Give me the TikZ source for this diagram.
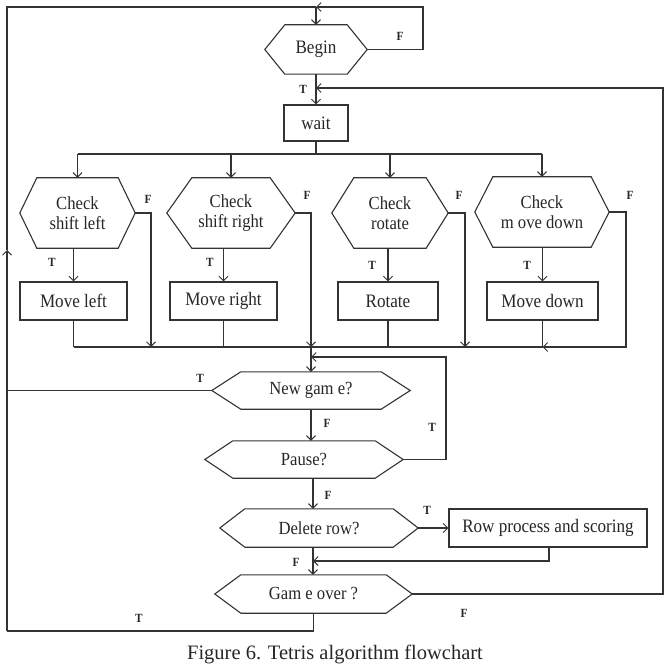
\documentclass[tikz,border=0pt]{standalone}
\usepackage{fontspec}
\setmainfont[FakeStretch=0.9]{Liberation Serif}
\newfontfamily\capfont{Liberation Serif}
\usetikzlibrary{arrows.meta,calc}
\tikzset{
  ln/.style={draw=black!80, line width=1.1pt},
  arr/.style={-{Straight Barb[length=4.5pt,width=9pt,line width=1pt]}},
  boxn/.style={draw=black!80, line width=1.1pt, rectangle, inner sep=0pt,
    font=\fontsize{19}{20}\selectfont, text=black!85},
  hexn/.style={rectangle, inner sep=0pt, align=center, text=black!85},
  chk/.style={hexn, font=\fontsize{18.5}{20}\selectfont},
  qst/.style={hexn, font=\fontsize{18.5}{20}\selectfont},
  lab/.style={font=\bfseries\fontsize{12.5}{12.5}\selectfont, text=black!85, inner sep=0pt},
}
\begin{document}
\begin{tikzpicture}[x=1pt,y=-1pt]
\useasboundingbox (0,0) rectangle (670,666);

% nodes
\node[hexn, font=\fontsize{19}{20}\selectfont, minimum width=102pt, minimum height=49pt] (bg) at (316,49.5) {Begin};
\node[boxn, minimum width=64pt, minimum height=36pt] (wt) at (316,123) {wait};

\node[chk, minimum width=115pt, minimum height=70pt] (h1) at (77.5,213) {Check\\shift left};
\node[chk, minimum width=128pt, minimum height=70pt] (h2) at (231,213) {Check\\shift right};
\node[chk, minimum width=116pt, minimum height=70pt] (h3) at (390,213) {Check\\rotate};
\node[chk, minimum width=134pt, minimum height=70pt] (h4) at (542,212) {Check\\m ove down};

\node[boxn, minimum width=107pt, minimum height=38pt] (b1) at (73.5,301) {Move left};
\node[boxn, minimum width=107pt, minimum height=38pt] (b2) at (223.5,301) {Move right};
\node[boxn, minimum width=100pt, minimum height=38pt] (b3) at (388,301) {Rotate};
\node[boxn, minimum width=111pt, minimum height=38pt] (b4) at (542.5,301) {Move down};

\node[qst, minimum width=198pt, minimum height=37pt] (ng) at (311,390.5) {New gam e?};
\node[qst, minimum width=198pt, minimum height=37pt] (pa) at (304,459.5) {Pause?};
\node[qst, minimum width=198pt, minimum height=38pt] (dr) at (319,528) {Delete row?};
\node[boxn, minimum width=198pt, minimum height=38pt] (rp) at (548,528) {Row process and scoring};
\node[qst, minimum width=197pt, minimum height=38pt] (go) at (313.5,594) {Gam e over ?};

% hexagon outlines
\foreach \n/\d in {bg/20,h1/17,h2/25,h3/22,h4/18,ng/29,pa/28,dr/25,go/26}
  \draw[ln] (\n.west) -- ([xshift=\d]\n.north west) -- ([xshift=-\d]\n.north east)
    -- (\n.east) -- ([xshift=-\d]\n.south east) -- ([xshift=\d]\n.south west) -- cycle;

% helper coordinates
\coordinate (tl) at (7,7);
\coordinate (jt) at (316,7);
\coordinate (tr) at (423,7);
\coordinate (la) at (7,250);
\coordinate (bl) at (7,631);
\coordinate (jw) at (316,88);
\coordinate (rr) at (663,88);
\coordinate (sp) at (316,154);
\coordinate (m) at (0,347);
\coordinate (f1) at (151,347);
\coordinate (f2) at (311,347);
\coordinate (f3) at (465,347);
\coordinate (f4) at (626,347);
\coordinate (pl) at (446,357);
\coordinate (sx) at (313,0);
\coordinate (rb) at (549,561);

% top loops
\draw[ln,arr] (bg.east) -| (tr) -- (jt);
\draw[ln] (go.south) |- (bl);
\draw[ln,arr] (bl) -- (la);
\draw[ln] (la) -- (tl) -- (jt);
\draw[ln,arr] (jt) -- (bg.north);
\draw[ln,arr] (bg.south) -- (wt.north);
\draw[ln,arr] (go.east) -| (rr) -- (jw);
\draw[ln] (ng.west) -- (ng.west -| tl);

% split
\draw[ln] (wt.south) -- (sp);
\draw[ln] (h1.north |- sp) -- (h4.north |- sp);
\foreach \h in {h1,h2,h3,h4}
  \draw[ln,arr] (\h.north |- sp) -- (\h.north);

% true branches
\draw[ln,arr] (h1.south -| b1.north) -- (b1.north);
\draw[ln,arr] (h2.south -| b2.north) -- (b2.north);
\draw[ln,arr] (h3.south -| b3.north) -- (b3.north);
\draw[ln,arr] (h4.south -| b4.north) -- (b4.north);

% merge
\foreach \b in {b1,b2,b3,b4}
  \draw[ln] (\b.south) -- (\b.south |- m);
\draw[ln] (b1.south |- m) -- (b4.south |- m);
\draw[ln,arr] (h1.east) -| (f1);
\draw[ln,arr] (h2.east) -| (f2);
\draw[ln,arr] (h3.east) -| (f3);
\draw[ln,arr] (h4.east) -| (f4) -- (b4.south |- m);
\draw[ln,arr] (f2) -- (ng.north);

% lower part
\draw[ln,arr] (pa.east) -| (pl) -- (pl -| ng.north);
\draw[ln,arr] (ng.south) -- (ng.south |- pa.north);
\draw[ln,arr] (pa.south -| sx) -- (dr.north -| sx);
\draw[ln,arr] (dr.east) -- (rp.west);
\draw[ln,arr] (dr.south -| sx) -- (go.north -| sx);
\draw[ln,arr] (rp.south -| rb) -- (rb) -- (rb -| sx);

% labels
\node[lab] at (400,36) {F};
\node[lab] at (303,89) {T};
\node[lab] at (148,199) {F};
\node[lab] at (307,195) {F};
\node[lab] at (459,195) {F};
\node[lab] at (630,195) {F};
\node[lab] at (52,262) {T};
\node[lab] at (210,262) {T};
\node[lab] at (372,265) {T};
\node[lab] at (527,265) {T};
\node[lab] at (200,378) {T};
\node[lab] at (327,423) {F};
\node[lab] at (432,427) {T};
\node[lab] at (328,495) {F};
\node[lab] at (427,510) {T};
\node[lab] at (296,562) {F};
\node[lab] at (464,613) {F};
\node[lab] at (139,618) {T};

% caption
\node[font=\capfont\fontsize{20.5}{21}\selectfont, text=black!85, anchor=base, inner sep=0pt] (cap) at (335,659.5) {Figure 6. Tetris algorithm flowchart};
\end{tikzpicture}
\end{document}
